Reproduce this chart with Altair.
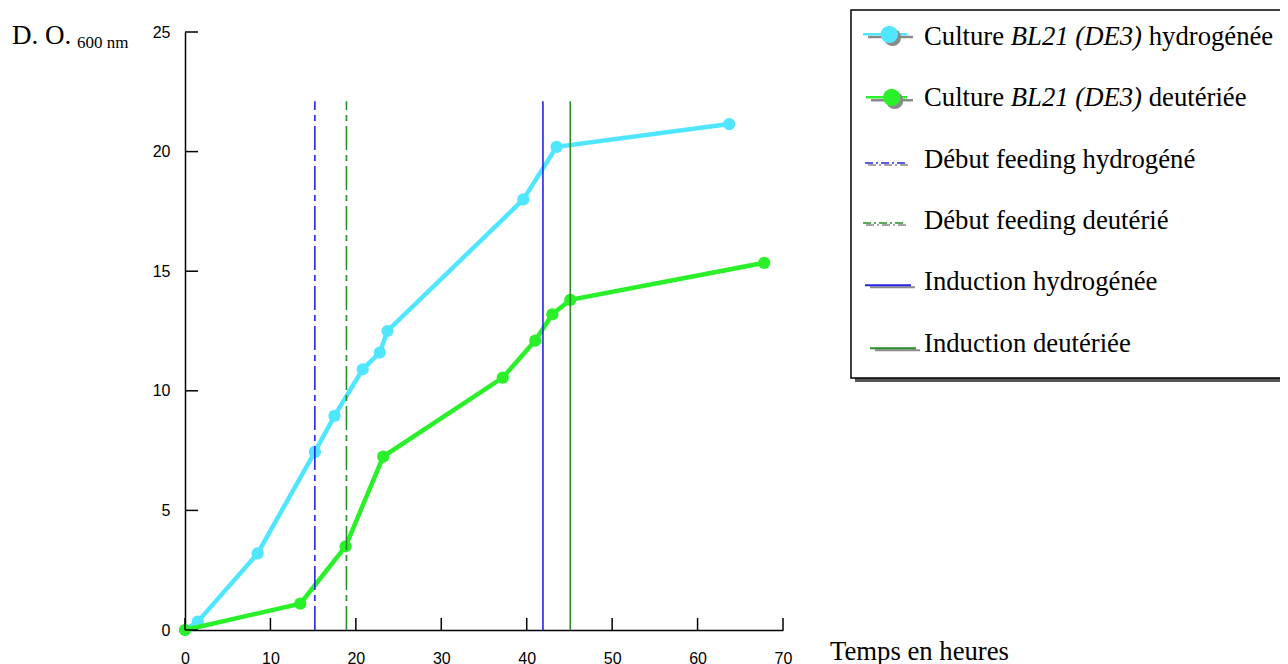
import altair as alt
import pandas as pd

# ---- data ----
cyan_t = [0, 1.5, 8.5, 15.2, 17.5, 20.8, 22.8, 23.7, 39.6, 43.5, 63.7]
cyan_od = [0, 0.35, 3.2, 7.45, 8.95, 10.9, 11.6, 12.5, 18.0, 20.2, 21.15]
green_t = [0, 13.5, 18.8, 23.2, 37.2, 41.0, 43.0, 45.1, 67.8]
green_od = [0, 1.1, 3.5, 7.25, 10.55, 12.1, 13.2, 13.8, 15.35]

feed_t = [15.2, 18.9]      # Début feeding hydrogéné / deutérié
induc_t = [41.9, 45.1]     # Induction hydrogénée / deutériée
vline_top = 22.1

x_ticks = [0, 10, 20, 30, 40, 50, 60, 70]
y_ticks = [0, 5, 10, 15, 20, 25]

legend_labels = [
    ("Culture", "BL21 (DE3)", "hydrogénée"),
    ("Culture", "BL21 (DE3)", "deutériée"),
    ("Début feeding hydrogéné",),
    ("Début feeding deutérié",),
    ("Induction hydrogénée",),
    ("Induction deutériée",),
]

CYAN = "#50E6FF"
GREEN = "#2AF02A"
BLUE = "#2424E6"
DGREEN = "#2A8C2A"
SHADOW = "#8a8a8a"
SERIF = "Liberation Serif"
SANS = "Liberation Sans"

W, H = 598, 598

cyan_df = pd.DataFrame({"t": cyan_t, "od": cyan_od})
green_df = pd.DataFrame({"t": green_t, "od": green_od})
feed_df = pd.DataFrame({"t": feed_t, "c": [BLUE, DGREEN]})
induc_df = pd.DataFrame({"t": induc_t, "c": [BLUE, DGREEN]})
xt_df = pd.DataFrame({"t": x_ticks})
yt_df = pd.DataFrame({"od": y_ticks})

xs = alt.Scale(domain=[0, 70], nice=False, zero=False)
ys = alt.Scale(domain=[0, 25], nice=False, zero=False)

xaxis = alt.Axis(values=x_ticks, tickSize=0, domain=True, domainColor="black",
                 domainWidth=1.5, labelPadding=20, labelFont=SANS, labelFontSize=16,
                 labelColor="black", grid=False, title=None, labelFlush=False,
                 labelOverlap=False, labelBound=False, format="d")
yaxis = alt.Axis(values=y_ticks, tickSize=0, domain=True, domainColor="black",
                 domainWidth=1.5, labelPadding=15, labelFont=SANS, labelFontSize=16,
                 labelColor="black", grid=False, title=None, labelFlush=False,
                 labelOverlap=False, labelBound=False, format="d")

cyan_line = alt.Chart(cyan_df).mark_line(color=CYAN, strokeWidth=4.5).encode(
    x=alt.X("t:Q", scale=xs, axis=xaxis), y=alt.Y("od:Q", scale=ys, axis=yaxis))
cyan_pts = alt.Chart(cyan_df).mark_point(color=CYAN, filled=True, size=150, opacity=1).encode(
    x="t:Q", y="od:Q")
green_line = alt.Chart(green_df).mark_line(color=GREEN, strokeWidth=4.5).encode(
    x="t:Q", y="od:Q")
green_pts = alt.Chart(green_df).mark_point(color=GREEN, filled=True, size=150, opacity=1).encode(
    x="t:Q", y="od:Q")

feed_rules = alt.Chart(feed_df).mark_rule(strokeWidth=1.6, strokeDash=[24, 5, 6, 5]).encode(
    x="t:Q", y=alt.Y(datum=0), y2=alt.Y2(datum=vline_top),
    color=alt.Color("c:N", scale=None))
induc_rules = alt.Chart(induc_df).mark_rule(strokeWidth=1.6).encode(
    x="t:Q", y=alt.Y(datum=0), y2=alt.Y2(datum=vline_top),
    color=alt.Color("c:N", scale=None))

# inward ticks
x_tick_marks = alt.Chart(xt_df).mark_tick(color="black", thickness=1.5, size=12,
                                          orient="vertical", opacity=1).encode(
    x="t:Q", y=alt.value(H - 6))
y_tick_marks = alt.Chart(yt_df).mark_tick(color="black", thickness=1.5, size=13,
                                          orient="horizontal", opacity=1).encode(
    y="od:Q", x=alt.value(6.5))

ONE = alt.Data(values=[{}])


def txt(s, x, y, size, style="normal", align="left"):
    return alt.Chart(ONE).mark_text(font=SERIF, fontSize=size, fontStyle=style,
                                    align=align, baseline="alphabetic", color="black").encode(
        x=alt.value(x), y=alt.value(y), text=alt.value(s))


def hline(x1, x2, y, color, width=2.0, dash=None):
    kw = dict(color=color, strokeWidth=width)
    if dash:
        kw["strokeDash"] = dash
    return alt.Chart(ONE).mark_rule(**kw).encode(
        x=alt.value(x1), x2=alt.value(x2), y=alt.value(y))


def dot(x, y, color, size=300):
    return alt.Chart(ONE).mark_point(shape="circle", filled=True, size=size,
                                     color=color, opacity=1).encode(
        x=alt.value(x), y=alt.value(y))


layers = []
# legend box with shadow
layers.append(alt.Chart(ONE).mark_rect(fill="#555555").encode(
    x=alt.value(670), x2=alt.value(1125), y=alt.value(-18), y2=alt.value(350)))
layers.append(alt.Chart(ONE).mark_rect(fill="white", stroke="black", strokeWidth=1.5).encode(
    x=alt.value(666), x2=alt.value(1120), y=alt.value(-22), y2=alt.value(346)))

FS = 26.7
TX = 739
base = [13, 74.3, 135.6, 196.9, 258.2, 319.5]
for i, lab in enumerate(legend_labels):
    b = base[i]
    if len(lab) == 3:
        layers.append(txt(lab[0], TX, b, FS))
        xi = TX + 3.25 * FS
        layers.append(txt(lab[1], xi, b, FS, style="italic"))
        layers.append(txt(lab[2], xi + (4.916 + 0.25) * FS, b, FS))
    else:
        layers.append(txt(lab[0], TX, b, FS))

# legend symbols
b = base[0]
layers += [hline(683, 728, b - 8, SHADOW, 2.5), hline(678, 722, b - 10.7, CYAN, 2.5),
           dot(707.5, b - 7.7, SHADOW), dot(704.3, b - 10.7, CYAN)]
b = base[1]
layers += [hline(686, 728, b - 6, SHADOW, 2.5), hline(681, 722, b - 9, GREEN, 2.5),
           dot(709.7, b - 6, SHADOW), dot(706.7, b - 9, GREEN)]
b = base[2]
layers += [hline(683, 724, b - 2.5, SHADOW, 1.5, [8, 3, 2, 3]),
           hline(680, 721, b - 4.5, BLUE, 1.5, [8, 3, 2, 3])]
b = base[3]
layers += [hline(681, 723, b - 4, SHADOW, 1.5, [8, 3, 2, 3]),
           hline(678, 720, b - 6, DGREEN, 1.5, [8, 3, 2, 3])]
b = base[4]
layers += [hline(685, 730, b - 3, SHADOW, 2), hline(680, 726, b - 5, BLUE, 2)]
b = base[5]
layers += [hline(690, 735, b - 1.2, SHADOW, 2), hline(685, 731, b - 3.2, DGREEN, 2)]

# axis titles
layers.append(txt("D. O.", -173, 12, 27))
layers.append(txt("600 nm", -108, 16, 17))
layers.append(txt("Temps en heures", 645, 628, FS))

chart = alt.layer(
    cyan_line, cyan_pts, green_line, green_pts, feed_rules, induc_rules,
    x_tick_marks, y_tick_marks, *layers
).properties(
    width=W, height=H,
    autosize=alt.AutoSizeParams(type="none"),
    padding={"left": 177, "top": 24, "right": 497, "bottom": 42},
    background="white",
).configure_view(stroke=None)

chart.save("out.html", embed_options={"renderer": "svg", "actions": False})
